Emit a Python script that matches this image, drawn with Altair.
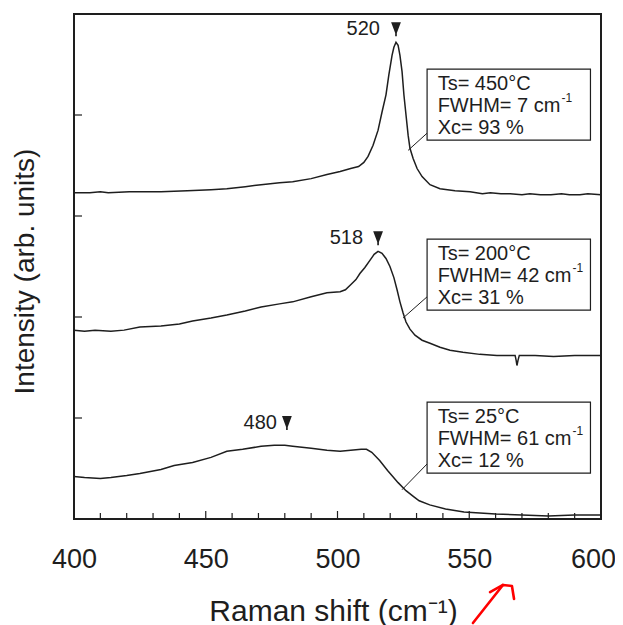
import altair as alt
import pandas as pd

# ---------------- data ----------------
raman_450 = [400, 406, 410, 413, 421, 433, 443, 452, 458, 465, 471, 478, 483, 490, 496, 501, 505, 508,
             510, 511.6, 513.5, 515.4, 516.9, 518.4, 519.5, 520.7, 521.4, 522.2, 523.0, 523.7, 524.5,
             525.2, 526.0, 526.8, 527.5, 528.7, 530.2, 532.1, 535.1, 538.9, 544.6, 550.3, 555, 558,
             562, 565.5, 570, 573, 577, 581, 585, 588, 592, 595, 600]
int_450 = [3.23, 3.23, 3.24, 3.23, 3.24, 3.24, 3.25, 3.26, 3.27, 3.29, 3.31, 3.33, 3.34, 3.37, 3.41,
           3.44, 3.47, 3.49, 3.53, 3.59, 3.70, 3.85, 4.03, 4.20, 4.40, 4.59, 4.67, 4.72, 4.69, 4.59,
           4.43, 4.20, 4.00, 3.80, 3.67, 3.57, 3.47, 3.39, 3.31, 3.27, 3.25, 3.24, 3.22, 3.23,
           3.22, 3.22, 3.21, 3.22, 3.21, 3.21, 3.22, 3.21, 3.21, 3.22, 3.21]

raman_200 = [400, 404, 408, 414, 419, 425, 433, 440, 445, 452, 458, 465, 471, 478, 483, 490, 496, 501,
             503, 505, 507, 508.5, 510.4, 512.3, 513.9, 515.4, 516.9, 518.4, 519.9, 521.4, 522.6,
             523.7, 524.9, 526.0, 527.5, 529.4, 532.1, 535.1, 538.9, 542.7, 547.6, 554, 560.5,
             565.5, 567.4, 567.8, 568.1, 568.5, 569, 575, 582, 590, 600]
int_200 = [1.87, 1.86, 1.87, 1.86, 1.87, 1.90, 1.91, 1.93, 1.96, 1.99, 2.02, 2.06, 2.10, 2.13, 2.15,
           2.20, 2.24, 2.25, 2.27, 2.32, 2.37, 2.43, 2.49, 2.56, 2.62, 2.65, 2.63, 2.58, 2.50, 2.39,
           2.27, 2.15, 2.04, 1.95, 1.88, 1.82, 1.77, 1.74, 1.70, 1.67, 1.65, 1.63, 1.62,
           1.62, 1.62, 1.57, 1.52, 1.57, 1.62, 1.62, 1.61, 1.62, 1.62]

raman_25 = [400, 404, 410, 414, 420, 425, 433, 438, 445, 452, 458, 464, 471, 476, 480, 483, 490, 496,
            501, 505, 509, 511, 513, 516, 519, 523, 526, 529, 531, 535, 541, 548, 554, 560, 570, 580,
            590, 600]
int_25 = [0.42, 0.41, 0.40, 0.41, 0.43, 0.45, 0.49, 0.53, 0.56, 0.61, 0.67, 0.69, 0.72, 0.73, 0.73,
          0.72, 0.70, 0.68, 0.67, 0.68, 0.69, 0.69, 0.66, 0.58, 0.48, 0.36, 0.28, 0.22, 0.18, 0.14,
          0.10, 0.07, 0.06, 0.05, 0.04, 0.03, 0.04, 0.04]

x_ticks_major = [400, 450, 500, 550, 600]
x_ticks_minor = [410, 420, 430, 440, 460, 470, 480, 490, 510, 520, 530, 540, 560, 570, 580, 590]
y_ticks = [1, 2, 3, 4]

# peak markers and their labels
peak_x = [522.2, 515.4, 480.8]
peak_y = [4.85, 2.78, 0.95]
peak_label = ["520", "518", "480"]
peak_label_x = [516.1, 509.7, 477.0]

# annotation boxes
box_x1 = [534.0, 534.0, 534.0]
box_x2 = [596.0, 596.0, 596.0]
box_y1 = [4.455, 2.772, 1.158]
box_y2 = [3.752, 2.069, 0.455]
leader_x1 = [534.0, 534.0, 534.0]
leader_y1 = [3.82, 2.20, 0.545]
leader_x2 = [526.8, 524.9, 524.5]
leader_y2 = [3.65, 1.99, 0.29]

line_texts = [["Ts= 450°C", "FWHM= 7 cm", "Xc= 93 %"],
              ["Ts= 200°C", "FWHM= 42 cm", "Xc= 31 %"],
              ["Ts= 25°C", "FWHM= 61 cm", "Xc= 12 %"]]
line_y = [[4.307, 4.089, 3.871], [2.624, 2.406, 2.188], [1.010, 0.792, 0.574]]
text_x = 538.0
sup_x = [585.0, 589.2, 589.2]

# red hand-drawn arrow (below the axis)
arrow_shaft_x = [551.4, 562.8]
arrow_shaft_y = [-1.03, -0.653]
arrow_head_x = [557.9, 562.8, 566.2, 567.0]
arrow_head_y = [-0.723, -0.653, -0.663, -0.792]

# ---------------- tables ----------------
rows = []
for name, xs, ys in [("450", raman_450, int_450), ("200", raman_200, int_200), ("25", raman_25, int_25)]:
    for i, (a, b) in enumerate(zip(xs, ys)):
        rows.append({"series": name, "idx": i, "raman": a, "intensity": b})
spec_df = pd.DataFrame(rows)

peaks_df = pd.DataFrame({"raman": peak_x, "intensity": peak_y})
plab_df = pd.DataFrame({"raman": peak_label_x, "intensity": peak_y, "t": peak_label})
box_df = pd.DataFrame({"raman": box_x1, "raman2": box_x2, "intensity": box_y1, "intensity2": box_y2})
lead_df = pd.DataFrame({"raman": leader_x1, "raman2": leader_x2, "intensity": leader_y1, "intensity2": leader_y2})
trows = []
srows = []
for k in range(3):
    for j in range(3):
        trows.append({"raman": text_x, "intensity": line_y[k][j], "t": line_texts[k][j]})
    srows.append({"raman": sup_x[k], "intensity": line_y[k][1], "t": "-1"})
text_df = pd.DataFrame(trows)
sup_df = pd.DataFrame(srows)

arrow_rows = []
for part, xs, ys in [("shaft", arrow_shaft_x, arrow_shaft_y), ("head", arrow_head_x, arrow_head_y)]:
    for i, (a, b) in enumerate(zip(xs, ys)):
        arrow_rows.append({"part": part, "idx": i, "raman": a, "intensity": b})
arrow_df = pd.DataFrame(arrow_rows)

# ---------------- chart ----------------
W, H = 527, 505
INK = "#1e1e1e"
FONT = "Liberation Sans"
xs_ = alt.Scale(domain=[400, 600], nice=False, zero=False)
ys_ = alt.Scale(domain=[0, 5], nice=False, zero=False)

xaxis = alt.Axis(
    values=x_ticks_major, ticks=False, tickSize=0, domain=False, grid=False,
    labelFontSize=27, labelPadding=27, labelColor=INK, labelFont=FONT, labelFlush=False,
    labelOverlap=False,
    labelOffset={"condition": {"test": "datum.value >= 600", "value": -8}, "value": 0},
    title="Raman shift (cm⁻¹)", titleFontSize=30, titleFontWeight="normal", titleFont=FONT,
    titleColor=INK, titleX=259, titleY=101, titleBaseline="alphabetic", titleAlign="center")
yaxis = alt.Axis(
    labels=False, ticks=False, tickSize=0, domain=False, grid=False,
    title="Intensity (arb. units)", titleFontSize=28, titleFontWeight="normal", titleFont=FONT,
    titleColor=INK, titleX=-41, titleY=257, titleAngle=270, titleBaseline="alphabetic",
    titleAlign="center")

X = lambda: alt.X("raman:Q", scale=xs_, axis=xaxis)
Y = lambda: alt.Y("intensity:Q", scale=ys_, axis=yaxis)

spectra = alt.Chart(spec_df).mark_line(color=INK, strokeWidth=1.5).encode(
    x=X(), y=Y(), detail="series:N", order="idx:Q")

minor = alt.Chart(pd.DataFrame({"raman": x_ticks_minor})).mark_rule(color=INK, strokeWidth=1.2).encode(
    x=X(), y=alt.value(H), y2=alt.value(H - 6))
major = alt.Chart(pd.DataFrame({"raman": x_ticks_major})).mark_rule(color=INK, strokeWidth=1.2).encode(
    x=X(), y=alt.value(H), y2=alt.value(H - 8))
yt = alt.Chart(pd.DataFrame({"intensity": y_ticks})).mark_rule(color=INK, strokeWidth=1.2).encode(
    y=Y(), x=alt.value(0), x2=alt.value(8))

leaders = alt.Chart(lead_df).mark_rule(color=INK, strokeWidth=1).encode(
    x=X(), x2="raman2:Q", y=Y(), y2="intensity2:Q")
boxes = alt.Chart(box_df).mark_rect(fill="white", stroke=INK, strokeWidth=1.2).encode(
    x=X(), x2="raman2:Q", y=Y(), y2="intensity2:Q")
texts = alt.Chart(text_df).mark_text(align="left", baseline="middle", fontSize=20, font=FONT,
                                     color=INK).encode(x=X(), y=Y(), text="t:N")
sups = alt.Chart(sup_df).mark_text(align="left", baseline="middle", fontSize=12, font=FONT, dy=-8,
                                   color=INK).encode(x=X(), y=Y(), text="t:N")

tri = "M-0.7,-1L0.7,-1L0.12,0.55L0.12,1L-0.12,1L-0.12,0.55Z"
markers = alt.Chart(peaks_df).mark_point(shape=tri, filled=True, size=196, color=INK, opacity=1).encode(
    x=X(), y=Y())
plabels = alt.Chart(plab_df).mark_text(align="right", baseline="middle", fontSize=20, font=FONT,
                                       color=INK).encode(x=X(), y=Y(), text="t:N")

arrow = alt.Chart(arrow_df).mark_line(color="#ff0000", strokeWidth=2.6, strokeCap="round",
                                      strokeJoin="round").encode(
    x=X(), y=Y(), detail="part:N", order="idx:Q")

chart = alt.layer(
    spectra, minor, major, yt, leaders, boxes, texts, sups, markers, plabels, arrow
).properties(
    width=W, height=H,
    autosize=alt.AutoSizeParams(type="none"),
    padding={"left": 66, "top": 6, "right": 14, "bottom": 106},
).configure(font=FONT).configure_view(stroke=INK, strokeWidth=2)

chart.save("out.html", embed_options={"renderer": "svg", "actions": False})
